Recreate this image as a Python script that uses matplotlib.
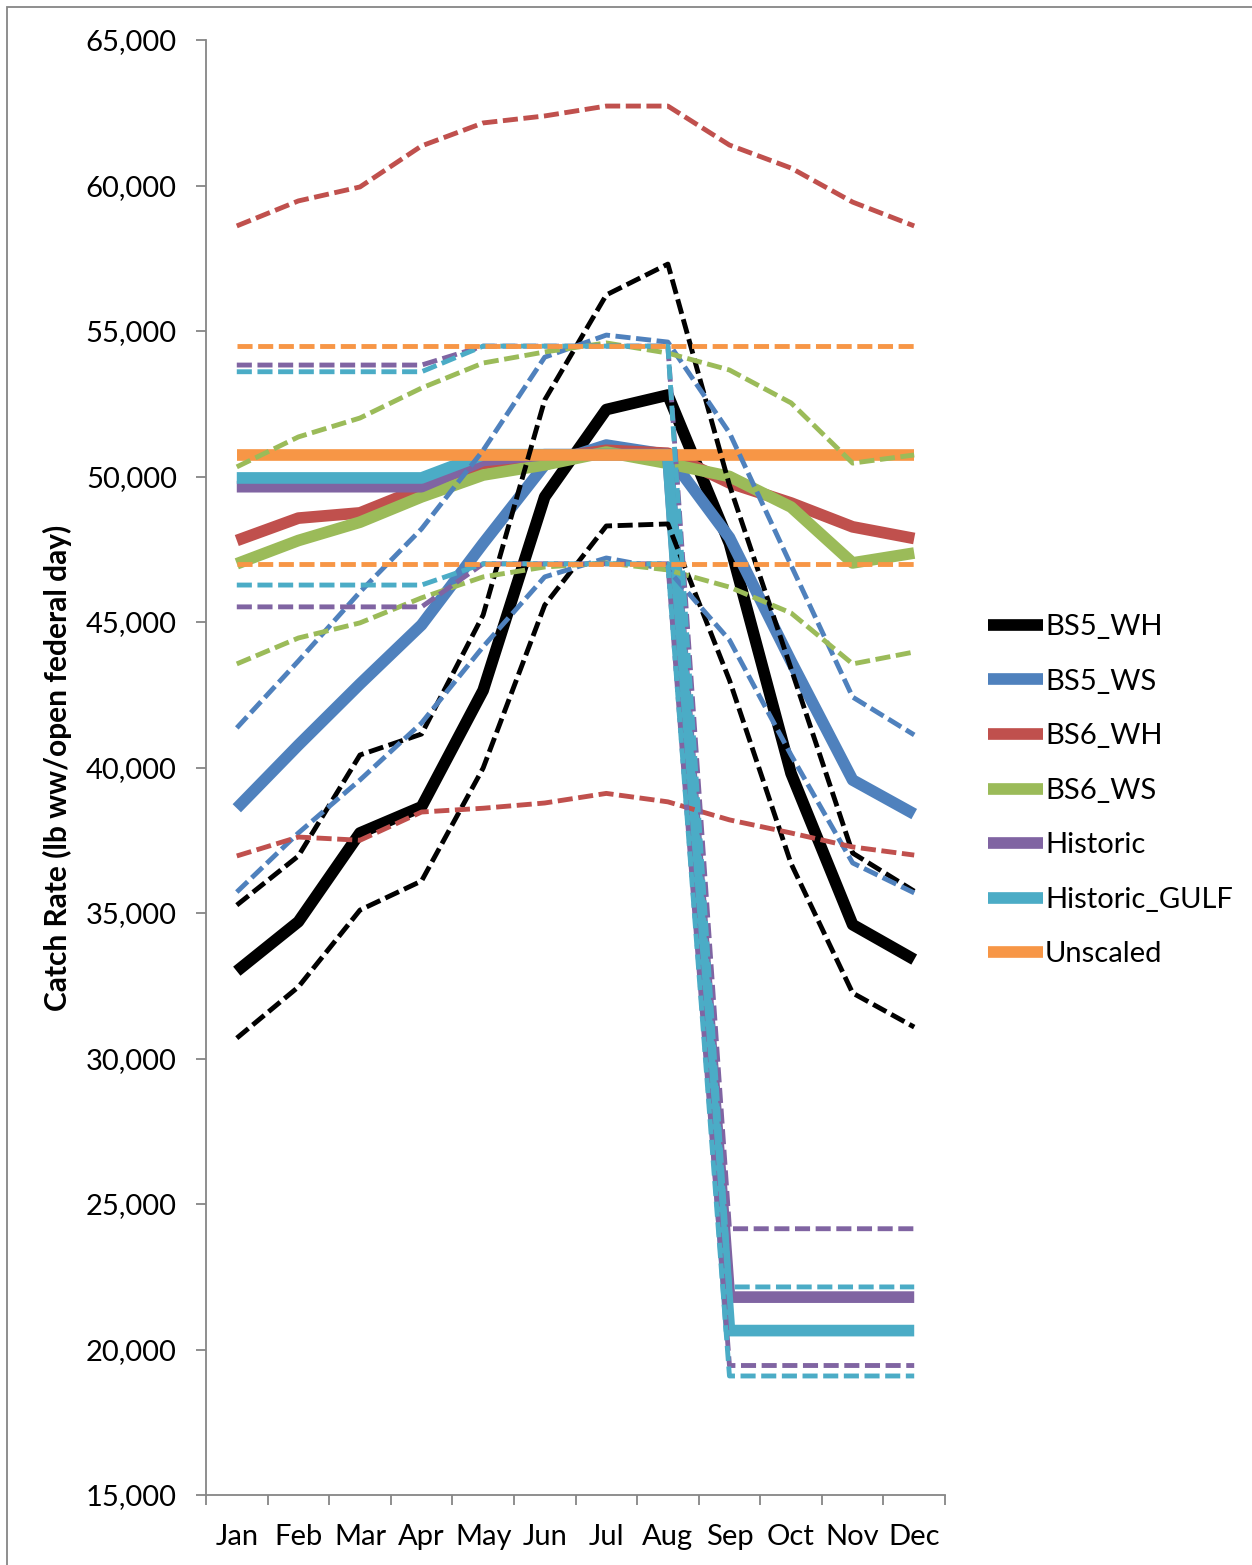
import matplotlib
matplotlib.use("Agg")
import matplotlib.pyplot as plt
from matplotlib.patches import Rectangle

plt.rcParams['font.family'] = ['Lato', 'DejaVu Sans']

months = ["Jan", "Feb", "Mar", "Apr", "May", "Jun", "Jul", "Aug", "Sep", "Oct", "Nov", "Dec"]

# Solid (central) series
bs5_wh = [33000, 34700, 37750, 38650, 42650, 49300, 52300, 52800, 47700, 39800, 34600, 33400]
bs5_ws = [38600, 40770, 42870, 44900, 47700, 50400, 51080, 50750, 47900, 43650, 39570, 38400]
bs6_wh = [47800, 48570, 48750, 49600, 50450, 50600, 50900, 50800, 49780, 49090, 48270, 47870]
bs6_ws = [47000, 47800, 48430, 49300, 50050, 50400, 50840, 50450, 50000, 48950, 47030, 47370]
historic = [49650, 49650, 49650, 49650, 50550, 50750, 50750, 50750, 21800, 21800, 21800, 21800]
historic_gulf = [49950, 49950, 49950, 49950, 50750, 50750, 50750, 50750, 20650, 20650, 20650, 20650]
unscaled = [50750] * 12

# Dashed (upper / lower) series
bs5_wh_hi = [35270, 36960, 40430, 41150, 45240, 52630, 56240, 57300, 49700, 43400, 37060, 35750]
bs5_wh_lo = [30700, 32460, 35100, 36100, 39980, 45580, 48300, 48370, 43000, 36700, 32250, 31080]
bs5_ws_hi = [41360, 43660, 46030, 48200, 50900, 54100, 54860, 54620, 51500, 46950, 42420, 41120]
bs5_ws_lo = [35720, 37750, 39570, 41530, 44150, 46550, 47200, 46800, 44380, 40430, 36720, 35690]
bs6_wh_hi = [58610, 59470, 59950, 61360, 62150, 62390, 62730, 62730, 61390, 60600, 59430, 58610]
bs6_wh_lo = [36960, 37610, 37500, 38470, 38600, 38780, 39110, 38820, 38200, 37750, 37270, 36990]
bs6_ws_hi = [50330, 51360, 52010, 53040, 53900, 54280, 54590, 54240, 53660, 52530, 50460, 50740]
bs6_ws_lo = [43560, 44450, 44970, 45830, 46550, 46890, 47030, 46790, 46200, 45310, 43560, 43970]
historic_hi = [53830, 53830, 53830, 53830, 54480, 54480, 54480, 54480, 24150, 24150, 24150, 24150]
historic_lo = [45520, 45520, 45520, 45520, 47000, 47000, 47000, 47000, 19450, 19450, 19450, 19450]
historic_gulf_hi = [53600, 53600, 53600, 53600, 54480, 54480, 54480, 54480, 22150, 22150, 22150, 22150]
historic_gulf_lo = [46270, 46270, 46270, 46270, 47000, 47000, 47000, 47000, 19090, 19090, 19090, 19090]
unscaled_hi = [54480] * 12
unscaled_lo = [47000] * 12

labels = ["BS5_WH", "BS5_WS", "BS6_WH", "BS6_WS", "Historic", "Historic_GULF", "Unscaled"]
colors = ["#000000", "#4F81BD", "#C0504D", "#9BBB59", "#8064A2", "#4BACC6", "#F79646"]
solids = [bs5_wh, bs5_ws, bs6_wh, bs6_ws, historic, historic_gulf, unscaled]
bands = [(bs5_wh_hi, bs5_wh_lo), (bs5_ws_hi, bs5_ws_lo), (bs6_wh_hi, bs6_wh_lo),
         (bs6_ws_hi, bs6_ws_lo), (historic_hi, historic_lo),
         (historic_gulf_hi, historic_gulf_lo), (unscaled_hi, unscaled_lo)]

W, H = 1252, 1565
fig = plt.figure(figsize=(W / 100, H / 100), dpi=100)
fig.patch.set_facecolor("white")

# chart area border (cropped at right and bottom)
fig.patches.append(Rectangle((7 / W, -0.1), 1.2, 1 - 7 / H + 0.1, transform=fig.transFigure,
                             fill=False, edgecolor="#868686", linewidth=1.3))

ax = fig.add_axes([206 / W, 1 - 1495 / H, (945 - 206) / W, (1495 - 40) / H])
x = list(range(len(months)))

handles = []
for vals, col, lab in zip(solids, colors, labels):
    ln, = ax.plot(x, vals, color=col, linewidth=8.4, solid_capstyle="butt",
                  solid_joinstyle="round", label=lab)
    handles.append(ln)

for (hi, lo), col in zip(bands, colors):
    for vals in (hi, lo):
        ax.plot(x, vals, color=col, linewidth=3.5, linestyle=(0, (3.1, 1.15)),
                dash_capstyle="butt", dash_joinstyle="round")

ax.set_xlim(-0.5, 11.5)
ax.set_ylim(15000, 65000)
ax.set_yticks(range(15000, 65001, 5000))
ax.set_yticklabels([f"{v:,}" for v in range(15000, 65001, 5000)], fontsize=21)
ax.set_xticks(x)
ax.set_xticklabels(months, fontsize=21)
ax.set_xticks([i - 0.5 for i in range(13)], minor=True)
ax.tick_params(axis="x", which="major", length=0, pad=21)
ax.tick_params(axis="x", which="minor", length=7, width=1.3, color="#868686", direction="out")
ax.tick_params(axis="y", length=7, width=1.3, color="#868686", direction="out", pad=14)

for s in ["top", "right"]:
    ax.spines[s].set_visible(False)
for s in ["left", "bottom"]:
    ax.spines[s].set_color("#868686")
    ax.spines[s].set_linewidth(1.3)

ax.set_ylabel("Catch Rate (lb ww/open federal day)", fontsize=21.5, fontweight="bold", labelpad=10)

leg = fig.legend(handles=handles, loc="upper left", bbox_to_anchor=(988 / W, 1 - 614 / H),
                 frameon=False, fontsize=21, handlelength=1.885, handletextpad=0.07,
                 labelspacing=0.98, borderpad=0, borderaxespad=0)

fig.savefig("out.png", dpi=100, facecolor="white")
